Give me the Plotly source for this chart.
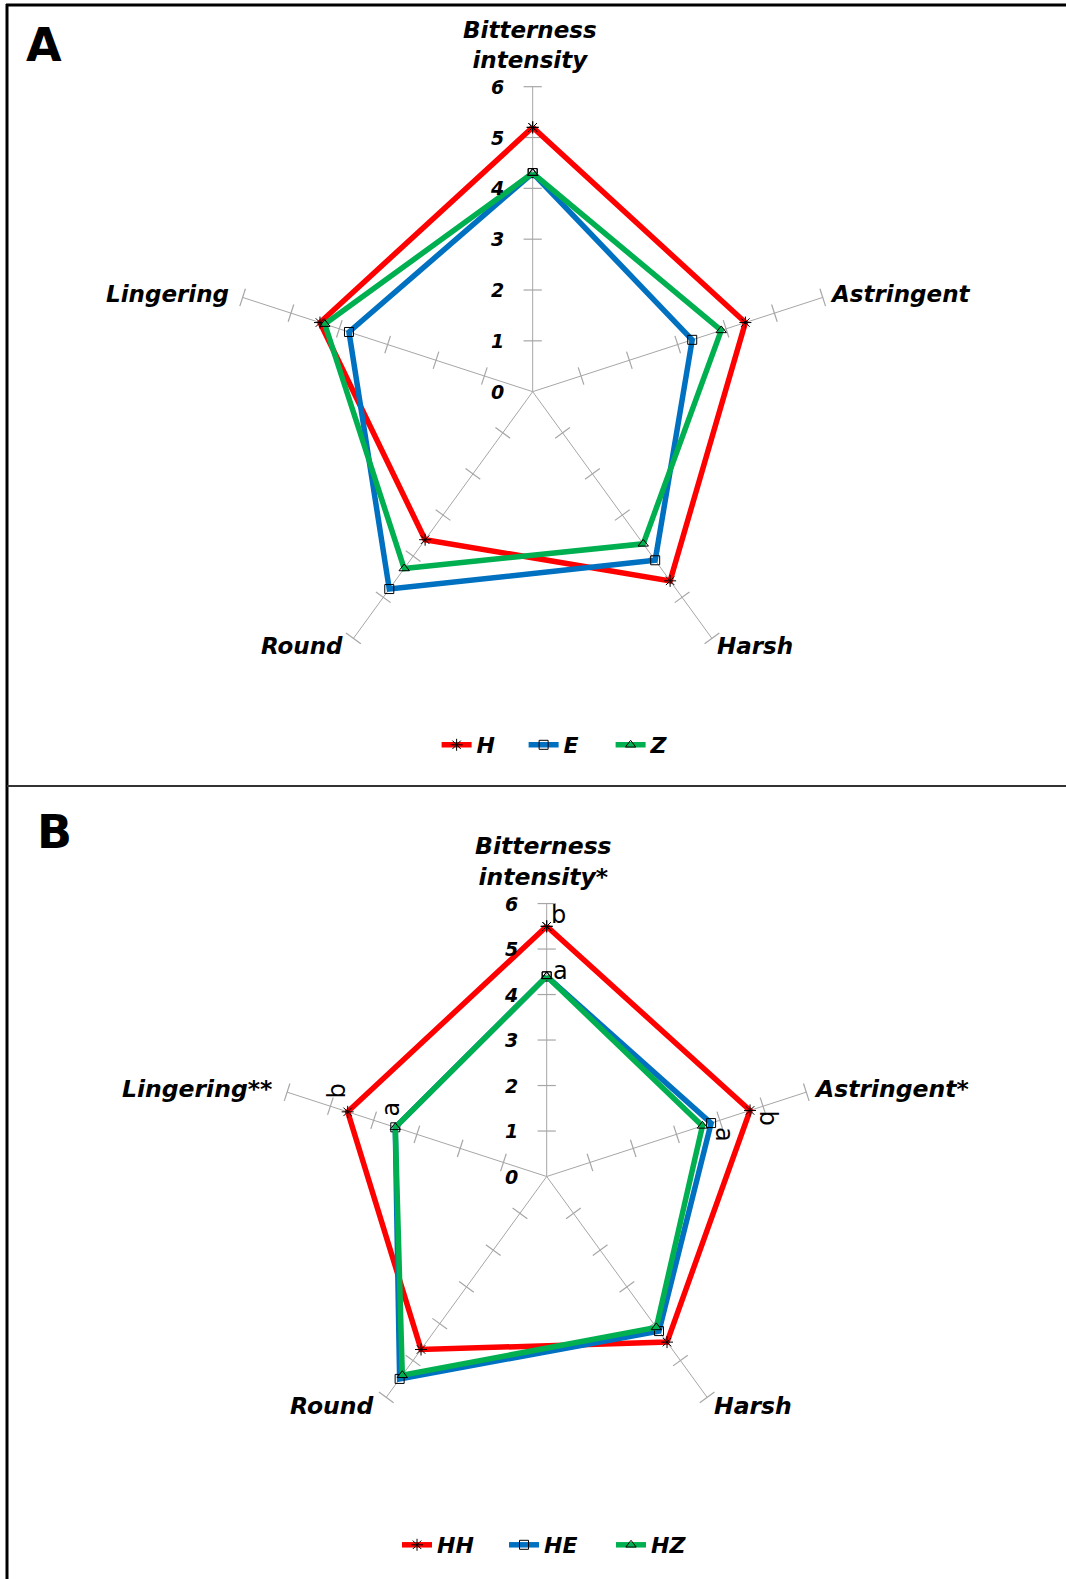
import numpy as np
import plotly.graph_objects as go

# Sensory attributes (clockwise from the top spoke)
categories = ["Bitterness<br>intensity", "Astringent", "Harsh", "Round", "Lingering"]
categories_b = ["Bitterness<br>intensity*", "Astringent*", "Harsh", "Round", "Lingering**"]
radial_ticks = [0, 1, 2, 3, 4, 5, 6]

# Panel A scores
H = [5.2, 4.4, 4.6, 3.6, 4.4]
E = [4.3, 3.3, 4.1, 4.8, 3.8]
Z = [4.3, 3.9, 3.7, 4.3, 4.3]

# Panel B scores
HH = [5.5, 4.7, 4.5, 4.7, 4.6]
HE = [4.4, 3.8, 4.2, 5.5, 3.5]
HZ = [4.4, 3.6, 4.1, 5.4, 3.5]

# Significance letters for panel B: (attribute index, series, letter)
sig_letters = [(0, "HH", "b"), (0, "HE", "a"),
               (1, "HH", "b"), (1, "HE", "a"),
               (4, "HH", "b"), (4, "HE", "a")]

FONT = "DejaVu Sans"
RED, BLUE, GREEN = "#FF0000", "#0070C0", "#00B050"
GRID = "#A6A6A6"
RMAX = radial_ticks[-1]

series_style = {
    "H": (RED, "asterisk-open", 10), "E": (BLUE, "square-open", 9), "Z": (GREEN, "triangle-up-open", 9),
    "HH": (RED, "asterisk-open", 10), "HE": (BLUE, "square-open", 9), "HZ": (GREEN, "triangle-up-open", 9),
}

# placement of attribute names around the spoke ends: (xanchor, yanchor, xshift, yshift)
label_place_a = [("center", "bottom", -3, 12), ("left", "middle", 5, 3), ("left", "middle", 3, -8),
                 ("right", "middle", -8, -8), ("right", "middle", -12, 3)]
label_place_b = [("center", "bottom", -3, 11), ("left", "middle", 6, 3), ("left", "middle", 5, -9),
                 ("right", "middle", -9, -9), ("right", "middle", -13, 3)]

fig = go.Figure()

tickfont = dict(family=FONT, size=19, color="black", weight="bold", style="italic")
catfont = dict(family=FONT, size=23, color="black", weight="bold", style="italic")
catfont_b = dict(family=FONT, size=23.5, color="black", weight="bold", style="italic")
annotations = []


def add_panel(subplot, xref, yref, cats, data, legend, places, cfont):
    n = len(cats)
    spoke_deg = [i * 360 / n for i in range(n)]
    # cross tick marks on every spoke
    tr, tt, ta = [], [], []
    for c, a in zip(cats, spoke_deg):
        for r in radial_ticks[1:]:
            tr.append(r)
            tt.append(c)
            ta.append(a)
    fig.add_trace(go.Scatterpolar(
        r=tr, theta=tt, mode="markers", subplot=subplot, showlegend=False, hoverinfo="skip",
        marker=dict(symbol="line-ew", size=13, angle=ta, color=GRID, line=dict(color=GRID, width=1.2)),
    ))
    for name, vals in data:
        color, sym, msize = series_style[name]
        fig.add_trace(go.Scatterpolar(
            r=vals + vals[:1], theta=cats + cats[:1], name=name, subplot=subplot, legend=legend,
            mode="lines+markers",
            line=dict(color=color, width=5.5),
            marker=dict(symbol=sym, size=msize, color="black", line=dict(color="black", width=1)),
        ))
    # attribute names at the spoke ends
    for c, a, (xa, ya, dx, dy) in zip(cats, spoke_deg, places):
        t = np.deg2rad(a)
        annotations.append(dict(
            x=RMAX * np.sin(t), y=RMAX * np.cos(t), xref=xref, yref=yref, text=c, showarrow=False,
            xanchor=xa, yanchor=ya, xshift=dx, yshift=dy, align="center", font=cfont,
        ))
    # radial scale numbers beside the top spoke
    for r in radial_ticks:
        annotations.append(dict(
            x=0, y=r, xref=xref, yref=yref, text=str(r), showarrow=False,
            xanchor="right", yanchor="middle", xshift=-27, font=tickfont,
        ))
    # invisible point so the overlay frame is created
    fig.add_trace(go.Scatter(x=[0], y=[0], mode="markers", marker=dict(opacity=0), showlegend=False,
                             hoverinfo="skip", xaxis=xref, yaxis=yref))


add_panel("polar", "x", "y", categories, [("H", H), ("E", E), ("Z", Z)], "legend", label_place_a, catfont)
add_panel("polar2", "x2", "y2", categories_b, [("HH", HH), ("HE", HE), ("HZ", HZ)], "legend2",
          label_place_b, catfont_b)

# significance letters in panel B
vals_b = {"HH": HH, "HE": HE, "HZ": HZ}
nb = len(categories_b)
letter_offsets = {
    (0, "HH"): (12, 11, 0), (0, "HE"): (14, 5, 0),
    (1, "HH"): (18, -7, 90), (1, "HE"): (13, -11, 90),
    (4, "HH"): (-11, 21, -90), (4, "HE"): (-4, 18, -90),
}
for idx, ser, letter in sig_letters:
    ang = np.deg2rad(idx * 360 / nb)
    r = vals_b[ser][idx]
    dx, dy, rot = letter_offsets[(idx, ser)]
    annotations.append(dict(
        x=r * np.sin(ang), y=r * np.cos(ang), xref="x2", yref="y2", text=letter, showarrow=False,
        xshift=dx, yshift=dy, textangle=rot, xanchor="center", yanchor="middle",
        font=dict(family=FONT, size=24, color="black"),
    ))

panel_labels = [
    dict(x=44 / 1066, y=1 - 45 / 1579, text="A"),
    dict(x=54 / 1066, y=1 - 832 / 1579, text="B"),
]
for p in panel_labels:
    annotations.append(dict(
        x=p["x"], y=p["y"], xref="paper", yref="paper", text=p["text"], showarrow=False,
        xanchor="center", yanchor="middle",
        font=dict(family=FONT, size=46, color="black", weight="bold"),
    ))

dom_a = dict(x=[0.2136, 0.7858], y=[0.5588, 0.9451])
dom_b = dict(x=[0.2568, 0.7689], y=[0.0820, 0.4278])


def polar_layout(dom):
    return dict(
        domain=dom, bgcolor="rgba(0,0,0,0)",
        angularaxis=dict(rotation=90, direction="clockwise", showgrid=True, gridcolor=GRID,
                         gridwidth=1.3, showline=False, ticks="", showticklabels=False),
        radialaxis=dict(range=[0, RMAX], tickvals=radial_ticks, showgrid=False, showline=False,
                        angle=90, ticks="", showticklabels=False),
    )


def overlay_axis(dom, anchor):
    return dict(domain=dom, anchor=anchor, range=[-RMAX, RMAX], visible=False, fixedrange=True)


legend_font = dict(family=FONT, size=22, color="black", weight="bold", style="italic")

fig.update_layout(
    width=1066, height=1579, margin=dict(l=0, r=0, t=0, b=0),
    paper_bgcolor="white", plot_bgcolor="rgba(0,0,0,0)",
    polar=polar_layout(dom_a), polar2=polar_layout(dom_b),
    xaxis=overlay_axis(dom_a["x"], "y"), yaxis=overlay_axis(dom_a["y"], "x"),
    xaxis2=overlay_axis(dom_b["x"], "y2"), yaxis2=overlay_axis(dom_b["y"], "x2"),
    legend=dict(orientation="h", x=0.532, y=1 - 745 / 1579, xanchor="center", yanchor="middle",
                font=legend_font, bgcolor="rgba(0,0,0,0)", entrywidth=42, entrywidthmode="pixels"),
    legend2=dict(orientation="h", x=0.523, y=1 - 1545 / 1579, xanchor="center", yanchor="middle",
                 font=legend_font, bgcolor="rgba(0,0,0,0)", entrywidth=62, entrywidthmode="pixels"),
    annotations=annotations,
    shapes=[
        dict(type="line", xref="paper", yref="paper", x0=6 / 1066, x1=1, y0=1 - 5 / 1579, y1=1 - 5 / 1579,
             line=dict(color="black", width=3)),
        dict(type="line", xref="paper", yref="paper", x0=7 / 1066, x1=7 / 1066, y0=0, y1=1 - 4 / 1579,
             line=dict(color="black", width=3)),
        dict(type="line", xref="paper", yref="paper", x0=7 / 1066, x1=1, y0=1 - 786 / 1579, y1=1 - 786 / 1579,
             line=dict(color="#333333", width=2)),
    ],
    showlegend=True,
)

fig.write_html("out.html")
